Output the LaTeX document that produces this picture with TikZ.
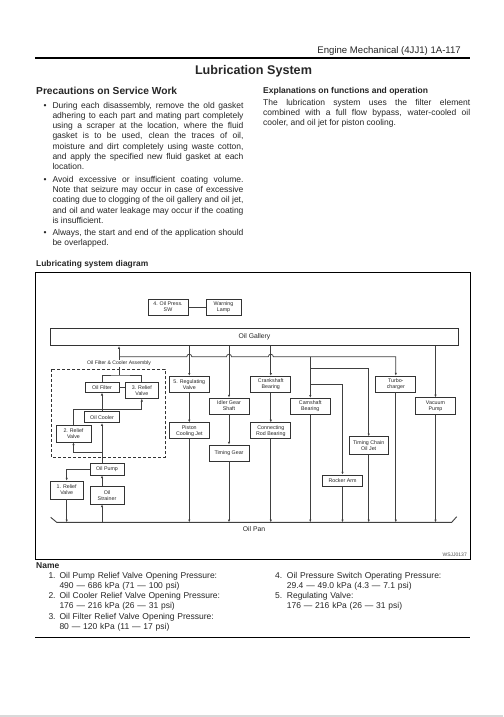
\documentclass[tikz,border=0pt]{standalone}
\usepackage{fontspec}
\setmainfont{Liberation Sans}
\usetikzlibrary{arrows.meta,calc}
\newcommand{\txtbody}{\fontsize{8.5}{10.25}\selectfont}
\newcommand{\txtbox}{\fontsize{5.3}{6}\selectfont}

\begin{document}
\begin{tikzpicture}[x=1pt,y=-1pt,
    every node/.style={font=\txtbox,text=black!85},
    box/.style={draw=black!80,line width=0.8pt,fill=white,minimum width=40pt,
                minimum height=16pt,align=center,inner sep=0pt},
    para/.style={font=\txtbody,align=justify,inner sep=0pt,anchor=base west},
    head/.style={font=\bfseries\fontsize{8.5}{10}\selectfont,inner sep=0pt,anchor=base west},
    txt/.style={font=\txtbody,inner sep=0pt,anchor=base west},
    ln/.style={draw=black!75,line width=0.75pt},
    arr/.style={ln,-{Latex[length=2.8pt,width=2.4pt]}}]
  \useasboundingbox (0,0) rectangle (503,717);
  \fill[white] (0,0) rectangle (503,717);
  \fill[gray!30] (0,714.5) rectangle (503,717);

  % page head
  \node[txt,anchor=base east,font=\fontsize{9.6}{11}\selectfont] (hdr) at (461,53.5) {Engine Mechanical (4JJ1) 1A-117};
  \draw[line width=1.3pt] (35,58) -- (470,58);
  \node[txt,anchor=base,font=\bfseries\fontsize{12.6}{14}\selectfont] (ttl) at (253.5,74.5) {Lubrication System};

  % left column
  \node[head,font=\bfseries\fontsize{10.2}{12}\selectfont] (prec) at (36,94.4) {Precautions on Service Work};
  \node[txt] (d1) at (43.5,108) {•};
  \node[para,text width=191pt] (p1) at (52.3,108) {During each disassembly, remove the old gasket\linebreak
    adhering to each part and mating part completely\linebreak
    using a scraper at the location, where the fluid\linebreak
    gasket is to be used, clean the traces of oil,\linebreak
    moisture and dirt completely using waste cotton,\linebreak
    and apply the specified new fluid gasket at each\linebreak
    location.};
  \node[txt] (d2) at (43.5,182.3) {•};
  \node[para,text width=191pt] (p2) at (52.3,182.3) {Avoid excessive or insufficient coating volume.\linebreak
    Note that seizure may occur in case of excessive\linebreak
    coating due to clogging of the oil gallery and oil jet,\linebreak
    and oil and water leakage may occur if the coating\linebreak
    is insufficient.};
  \node[txt] (d3) at (43.5,235) {•};
  \node[para,text width=191pt] (p3) at (52.3,235) {Always, the start and end of the application should\linebreak
    be overlapped.};

  % right column
  \node[head] (expl) at (263,93.7) {Explanations on functions and operation};
  \node[para,text width=207pt] (p4) at (263,105.5) {The lubrication system uses the filter element\linebreak
    combined with a full flow bypass, water-cooled oil\linebreak
    cooler, and oil jet for piston cooling.};

  % diagram
  \node[head,font=\bfseries\fontsize{8.4}{10}\selectfont] (dgm) at (36,266) {Lubricating system diagram};
  \draw[line width=0.9pt] (35,272.3) rectangle (470.7,559.3);
  \node[txt,anchor=base east,font=\fontsize{5}{6}\selectfont,text=black!70] (code) at (467,556.5) {WSJJ0137};

  \node[box] (sw) at (168,307) {4. Oil Press.\\SW};
  \node[box,minimum width=35pt] (lamp) at (223.5,307) {Warning\\Lamp};
  \node[box,minimum width=407.6pt,minimum height=17.4pt,font=\fontsize{6.8}{8}\selectfont] (gal) at (254.5,337) {Oil Gallery};

  \node[box,minimum width=34pt,minimum height=10pt] (filt) at (102,387.3) {Oil Filter};
  \node[box,minimum width=33pt] (rv3) at (141.8,390.3) {3. Relief\\Valve};
  \node[box,minimum width=35pt,minimum height=11pt] (cool) at (102,417.2) {Oil Cooler};
  \node[box,minimum width=35pt,minimum height=17pt] (rv2) at (73.5,433.5) {2. Relief\\Valve};
  \node[box,minimum width=34pt,minimum height=11.5pt] (pump) at (107,469.2) {Oil Pump};
  \node[box,minimum width=33.3pt,minimum height=18pt] (rv1) at (66.7,490) {1. Relief\\Valve};
  \node[box,minimum width=34pt,minimum height=17.3pt] (strn) at (107,495.3) {Oil\\Strainer};

  \node[box] (reg) at (189.3,384.2) {5. Regulating\\Valve};
  \node[box] (idler) at (229,406) {Idler Gear\\Shaft};
  \node[box] (crank) at (270.8,384.2) {Crankshaft\\Bearing};
  \node[box] (cam) at (310.3,406.2) {Camshaft\\Bearing};
  \node[box] (pist) at (189.3,430.8) {Piston\\Cooling Jet};
  \node[box] (conrod) at (270.8,430.8) {Connecting\\Rod Bearing};
  \node[box] (tgear) at (229,453) {Timing Gear};
  \node[box] (turbo) at (395.8,384) {Turbo-\\charger};
  \node[box,minimum height=17pt] (vac) at (435.5,406.3) {Vacuum\\Pump};
  \node[box,minimum width=38.7pt,minimum height=17.6pt] (tcj) at (368.7,445.5) {Timing Chain\\Oil Jet};
  \node[box,minimum height=11.7pt] (rock) at (342.5,480.8) {Rocker Arm};

  \draw[dashed,dash pattern=on 3pt off 2pt,line width=0.8pt,black!80] (51,369.3) rectangle (165,457.3);

  \coordinate (feed)  at (119,356.7);
  \coordinate (fjoin) at (119,375);
  \coordinate (rjoin) at (141.8,409);
  \coordinate (cjoin) at (102,452.3);
  \coordinate (tapA)  at (310.3,368.3);
  \coordinate (tapB)  at (310.3,384.2);
  \coordinate (panL)  at (56.7,522.3);
  \coordinate (panR)  at (451.7,522.3);

  % oil pan
  \draw[ln,line width=0.9pt] (50.7,517.3) -- (panL) -- (panR) -- (456.7,516.7);
  \node[font=\fontsize{6.8}{8}\selectfont] (pan) at (254,529.3) {Oil Pan};

  % filter & cooler assembly
  \draw[ln] (sw.east) -- (lamp.west);
  \draw[ln] (filt.north) |- (fjoin) -| (rv3.north);
  \draw[ln] (filt.east) -- (filt.east-|rv3.west);
  \draw[arr] (fjoin) -- (fjoin|-gal.south);
  \draw[arr] (cool.north) -- (cool.north|-filt.south);
  \draw[arr] (rv2.north) |- (rjoin) -- (rv3.south);
  \draw[arr] (pump.north-|cool) -- (cool.south);
  \draw[arr] (cjoin) -| (rv2.south);
  \draw[arr] (pump.west) -| (rv1.north);
  \draw[arr] (strn.north-|cool) -- (pump.south-|cool);
  \draw[arr] (panL-|cool) -- (strn.south-|cool);
  \node[fill=white,inner sep=0.8pt,font=\fontsize{5.1}{6}\selectfont] (asm) at (119,363.5) {Oil Filter \& Cooler Assembly};

  % feed line with hops
  \draw[arr] (feed)
    -- ($(reg|-feed)+(-2.5,0)$) arc[start angle=180,end angle=360,radius=2.5]
    -- ($(idler|-feed)+(-2.5,0)$) arc[start angle=180,end angle=360,radius=2.5]
    -- ($(crank|-feed)+(-2.5,0)$) arc[start angle=180,end angle=360,radius=2.5]
    -- (turbo|-feed) -- (turbo.north);
  \draw[arr] (cam.north|-feed) -- (cam.north);
  \draw[arr] (tapA) -| (tcj.north);
  \draw[arr] (tapB) -| (rock.north);

  \foreach \n in {reg,idler,crank,vac}{
    \draw[arr] (gal.south-|\n) -- (\n.north);
  }
  \foreach \a/\b in {reg/pist,idler/tgear,crank/conrod}{
    \draw[arr] (\a.south) -- (\a.south|-\b.north);
  }
  \foreach \n in {rv1,pist,tgear,conrod,cam,rock,tcj,turbo,vac}{
    \draw[arr] (\n.south) -- (\n.south|-panL);
  }

  % names
  \node[head] (name) at (36,568) {Name};
  \node[txt] (k1) at (48.3,578) {1.};
  \node[para,text width=180pt,align=left] (n1) at (59.3,578) {Oil Pump Relief Valve Opening Pressure:\\490 — 686 kPa (71 — 100 psi)};
  \node[txt] (k2) at (48.3,598.7) {2.};
  \node[para,text width=180pt,align=left] (n2) at (59.3,598.7) {Oil Cooler Relief Valve Opening Pressure:\\176 — 216 kPa (26 — 31 psi)};
  \node[txt] (k3) at (48.3,619.4) {3.};
  \node[para,text width=180pt,align=left] (n3) at (59.3,619.4) {Oil Filter Relief Valve Opening Pressure:\\80 — 120 kPa (11 — 17 psi)};
  \node[txt] (k4) at (275,578) {4.};
  \node[para,text width=180pt,align=left] (n4) at (286.7,578) {Oil Pressure Switch Operating Pressure:\\29.4 — 49.0 kPa (4.3 — 7.1 psi)};
  \node[txt] (k5) at (275,598.7) {5.};
  \node[para,text width=180pt,align=left] (n5) at (286.7,598.7) {Regulating Valve:\\176 — 216 kPa (26 — 31 psi)};
  \draw[line width=0.8pt] (35,637.3) -- (470,637.3);
\end{tikzpicture}
\end{document}
